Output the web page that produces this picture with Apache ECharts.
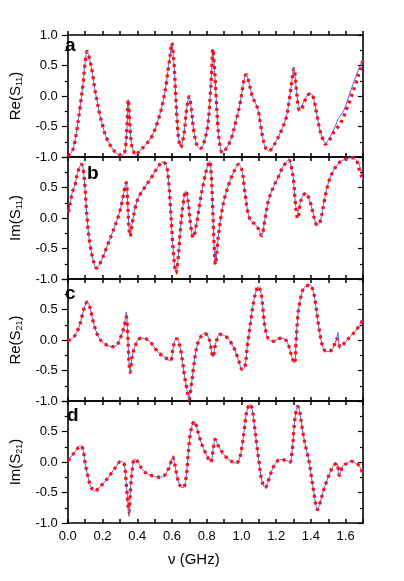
<!DOCTYPE html>
<html>
<head>
<meta charset="utf-8">
<script src="https://cdn.jsdelivr.net/npm/echarts@6/dist/echarts.min.js"></script>
<style>
  html, body { margin: 0; padding: 0; background: #fff; }
  #chart { width: 404px; height: 581px; }
</style>
</head>
<body>
<div id="chart"></div>
<script>
// model (blue line) values, [frequency GHz, value]
const reS11 = [[0.0,-0.98],[0.02,-0.93],[0.034,-0.83],[0.052,-0.56],[0.071,-0.18],[0.09,0.26],[0.099,0.53],[0.112,0.73],[0.127,0.59],[0.142,0.37],[0.155,0.12],[0.168,-0.07],[0.183,-0.29],[0.202,-0.5],[0.22,-0.67],[0.249,-0.83],[0.277,-0.93],[0.305,-0.97],[0.323,-0.95],[0.333,-0.83],[0.342,-0.45],[0.348,-0.06],[0.355,-0.34],[0.366,-0.78],[0.38,-0.92],[0.393,-0.97],[0.408,-0.92],[0.445,-0.81],[0.483,-0.67],[0.52,-0.4],[0.548,-0.1],[0.567,0.2],[0.58,0.48],[0.591,0.7],[0.598,0.87],[0.61,0.59],[0.62,0.1],[0.628,-0.34],[0.637,-0.67],[0.65,-0.84],[0.669,-0.62],[0.684,-0.23],[0.699,-0.01],[0.712,-0.23],[0.725,-0.56],[0.744,-0.81],[0.763,-0.86],[0.782,-0.78],[0.805,-0.5],[0.82,-0.01],[0.829,0.43],[0.835,0.77],[0.844,0.48],[0.854,-0.01],[0.863,-0.45],[0.876,-0.81],[0.89,-0.93],[0.913,-0.86],[0.941,-0.7],[0.969,-0.4],[0.988,-0.18],[1.006,0.12],[1.02,0.32],[1.027,0.35],[1.044,0.21],[1.063,-0.01],[1.081,-0.12],[1.096,-0.23],[1.109,-0.45],[1.122,-0.67],[1.137,-0.84],[1.156,-0.9],[1.175,-0.86],[1.203,-0.72],[1.231,-0.56],[1.259,-0.34],[1.278,-0.01],[1.291,0.26],[1.302,0.45],[1.315,0.15],[1.328,-0.15],[1.34,-0.19],[1.362,-0.07],[1.38,0.01],[1.399,0.04],[1.418,-0.07],[1.433,-0.29],[1.452,-0.56],[1.47,-0.72],[1.483,-0.77],[1.511,-0.67],[1.54,-0.5],[1.558,-0.37],[1.586,-0.26],[1.624,0.04],[1.661,0.34],[1.7,0.6]];
const imS11 = [[0.0,0.1],[0.006,0.12],[0.024,0.4],[0.043,0.56],[0.056,0.73],[0.07,0.85],[0.08,0.88],[0.094,0.67],[0.105,0.23],[0.114,-0.1],[0.127,-0.42],[0.142,-0.64],[0.155,-0.78],[0.165,-0.82],[0.193,-0.7],[0.22,-0.51],[0.258,-0.23],[0.296,0.07],[0.314,0.29],[0.329,0.51],[0.337,0.58],[0.344,0.29],[0.352,-0.15],[0.359,-0.3],[0.37,-0.1],[0.389,0.18],[0.408,0.34],[0.445,0.51],[0.483,0.67],[0.52,0.84],[0.548,0.92],[0.567,0.86],[0.58,0.62],[0.591,0.18],[0.604,-0.42],[0.614,-0.75],[0.623,-0.9],[0.636,-0.64],[0.651,-0.1],[0.664,0.23],[0.679,0.44],[0.692,0.29],[0.707,-0.1],[0.722,-0.32],[0.741,-0.1],[0.763,0.29],[0.782,0.58],[0.8,0.8],[0.817,0.93],[0.826,0.7],[0.834,0.2],[0.842,-0.4],[0.85,-0.76],[0.866,-0.32],[0.885,0.07],[0.904,0.34],[0.932,0.59],[0.96,0.78],[0.984,0.88],[1.003,0.78],[1.016,0.51],[1.035,0.12],[1.053,-0.04],[1.081,-0.11],[1.1,-0.19],[1.115,-0.29],[1.137,0.01],[1.156,0.29],[1.184,0.51],[1.212,0.67],[1.24,0.84],[1.272,0.95],[1.291,0.78],[1.302,0.56],[1.311,0.23],[1.324,0.1],[1.343,0.29],[1.371,0.41],[1.39,0.31],[1.409,0.12],[1.427,-0.08],[1.437,-0.12],[1.455,-0.04],[1.478,0.29],[1.502,0.59],[1.53,0.78],[1.568,0.92],[1.605,0.97],[1.633,0.99],[1.661,0.95],[1.68,0.86],[1.7,0.62]];
const reS21 = [[0.0,0.0],[0.006,0.0],[0.034,0.05],[0.052,0.13],[0.071,0.27],[0.09,0.48],[0.105,0.6],[0.114,0.62],[0.127,0.54],[0.142,0.35],[0.161,0.16],[0.183,0.02],[0.211,-0.06],[0.239,-0.1],[0.267,-0.11],[0.286,-0.07],[0.305,0.05],[0.324,0.21],[0.337,0.46],[0.344,0.16],[0.352,-0.34],[0.359,-0.53],[0.37,-0.28],[0.385,-0.12],[0.404,0.0],[0.426,0.03],[0.455,0.01],[0.483,-0.06],[0.52,-0.2],[0.557,-0.28],[0.591,-0.34],[0.604,-0.17],[0.617,-0.01],[0.628,0.02],[0.642,-0.06],[0.66,-0.34],[0.673,-0.61],[0.688,-0.83],[0.698,-0.97],[0.707,-0.83],[0.722,-0.5],[0.735,-0.23],[0.75,-0.04],[0.767,0.06],[0.786,0.11],[0.805,0.07],[0.819,-0.04],[0.829,-0.2],[0.836,-0.28],[0.847,-0.12],[0.855,-0.02],[0.875,0.09],[0.904,0.07],[0.932,-0.01],[0.96,-0.15],[0.984,-0.34],[1.006,-0.49],[1.021,-0.42],[1.035,-0.06],[1.044,0.1],[1.059,0.43],[1.072,0.65],[1.085,0.81],[1.096,0.88],[1.109,0.81],[1.119,0.65],[1.128,0.38],[1.141,0.13],[1.156,0.02],[1.184,-0.02],[1.212,0.02],[1.24,0.03],[1.265,-0.04],[1.278,-0.15],[1.291,-0.28],[1.306,-0.38],[1.315,-0.01],[1.324,0.38],[1.334,0.59],[1.347,0.76],[1.362,0.86],[1.395,0.9],[1.414,0.79],[1.427,0.59],[1.44,0.32],[1.455,0.05],[1.47,-0.12],[1.489,-0.19],[1.521,-0.16],[1.54,-0.04],[1.548,0.02],[1.555,0.13],[1.562,-0.08],[1.568,-0.12],[1.596,-0.04],[1.624,0.05],[1.652,0.13],[1.68,0.24],[1.7,0.33]];
const imS21 = [[0.0,0.03],[0.006,0.04],[0.034,0.14],[0.056,0.22],[0.071,0.27],[0.086,0.22],[0.099,0.0],[0.112,-0.19],[0.127,-0.36],[0.142,-0.45],[0.155,-0.48],[0.183,-0.41],[0.211,-0.33],[0.249,-0.19],[0.277,-0.08],[0.305,0.01],[0.324,-0.03],[0.337,-0.36],[0.346,-0.68],[0.352,-0.89],[0.361,-0.46],[0.37,-0.14],[0.385,0.05],[0.404,0.0],[0.426,-0.11],[0.455,-0.19],[0.492,-0.23],[0.529,-0.25],[0.557,-0.22],[0.585,-0.08],[0.604,0.08],[0.617,-0.05],[0.632,-0.27],[0.651,-0.41],[0.664,-0.42],[0.679,-0.3],[0.692,0.08],[0.703,0.41],[0.716,0.6],[0.729,0.67],[0.744,0.55],[0.763,0.36],[0.782,0.22],[0.801,0.1],[0.823,0.0],[0.838,0.22],[0.849,0.37],[0.866,0.27],[0.894,0.14],[0.922,0.05],[0.95,0.0],[0.969,-0.02],[0.988,0.05],[1.003,0.25],[1.016,0.52],[1.025,0.74],[1.038,0.9],[1.05,0.95],[1.063,0.85],[1.076,0.57],[1.087,0.3],[1.1,0.03],[1.113,-0.25],[1.126,-0.38],[1.137,-0.42],[1.156,-0.3],[1.175,-0.14],[1.197,-0.02],[1.222,0.04],[1.25,0.03],[1.278,0.0],[1.291,0.16],[1.302,0.52],[1.311,0.77],[1.324,0.91],[1.334,0.85],[1.349,0.57],[1.362,0.36],[1.377,0.16],[1.39,0.0],[1.403,-0.25],[1.418,-0.52],[1.427,-0.68],[1.437,-0.78],[1.452,-0.68],[1.47,-0.49],[1.493,-0.3],[1.515,-0.14],[1.534,-0.05],[1.549,-0.02],[1.564,-0.22],[1.583,-0.07],[1.609,-0.02],[1.633,0.01],[1.661,-0.02],[1.68,-0.07],[1.7,-0.19]];

// measured (red dots) where they differ from the model
const reS11Meas = [[1.328,-0.2],[1.34,-0.24],[1.362,-0.1],[1.483,-0.79],[1.511,-0.7],[1.54,-0.55],[1.558,-0.5],[1.568,-0.45],[1.586,-0.36],[1.605,-0.21],[1.624,-0.08],[1.642,0.07],[1.661,0.22],[1.68,0.4],[1.69,0.47]];
const imS11Meas = [[1.324,-0.01],[1.68,0.78],[1.69,0.7]];
const reS21Meas = [[0.337,0.38],[1.555,-0.01],[1.562,-0.06]];
const imS21Meas = [[0.352,-0.82]];

const yNames = ['Re(S{sub|11})', 'Im(S{sub|11})', 'Re(S{sub|21})', 'Im(S{sub|21})'];
const panelLetters = ['a', 'b', 'c', 'd'];

const model = [reS11, imS11, reS21, imS21];
const measured = [reS11Meas, imS11Meas, reS21Meas, imS21Meas];

function merge(base, over) {
  const map = new Map(base.map(p => [p[0], p[1]]));
  over.forEach(p => map.set(p[0], p[1]));
  return Array.from(map.entries()).sort((a, b) => a[0] - b[0]);
}

const chart = echarts.init(document.getElementById('chart'));
const FONT = 'Liberation Sans, Arial, sans-serif';
const top0 = 35, h = 122;

const grid = [], xAxis = [], yAxis = [], series = [];
const axisLine = { onZero: false, lineStyle: { color: '#000', width: 1.6 } };

for (let i = 0; i < 4; i++) {
  grid.push({ left: 61, right: 41, top: top0 + i * h, height: h });
  const xBase = {
    gridIndex: i, type: 'value', min: 0, max: 1.7, interval: 0.1,
    axisLine, splitLine: { show: false }
  };
  xAxis.push(Object.assign({}, xBase, {
    position: 'bottom',
    axisTick: { inside: true, length: 4, lineStyle: { color: '#000', width: 1.5 } },
    axisLabel: {
      show: i === 3, margin: 7, fontSize: 13, color: '#000', fontFamily: FONT,
      formatter: v => (Math.round(v * 10) % 2 === 0 && v < 1.65) ? v.toFixed(1) : ''
    }
  }));
  xAxis.push(Object.assign({}, xBase, {
    position: 'top',
    axisTick: { inside: i > 0, length: 4, lineStyle: { color: '#000', width: 1.5 } },
    axisLabel: { show: false }
  }));
  yAxis.push({
    gridIndex: i, type: 'value', min: -1, max: 1, interval: 0.5, position: 'left',
    axisLine, splitLine: { show: false },
    axisTick: { length: 6, lineStyle: { color: '#000', width: 1.2 } },
    minorTick: { show: true, splitNumber: 2, length: 3, lineStyle: { color: '#000', width: 1.2 } },
    axisLabel: {
      margin: 10, fontSize: 13, color: '#000', fontFamily: FONT,
      showMaxLabel: i === 0, formatter: v => v.toFixed(1)
    },
    name: yNames[i], nameLocation: 'middle', nameGap: 38, nameRotate: 90,
    nameTextStyle: {
      fontSize: 15, color: '#000', fontFamily: FONT,
      rich: { sub: { fontSize: 9, fontFamily: FONT, color: '#000', padding: [9, 0, 0, 0] } }
    }
  });
  yAxis.push({
    gridIndex: i, type: 'value', min: -1, max: 1, interval: 0.5, position: 'right',
    axisLine, splitLine: { show: false }, axisLabel: { show: false },
    axisTick: { inside: true, length: 5, lineStyle: { color: '#000', width: 1.2 } },
    minorTick: { show: true, splitNumber: 2, length: 3, lineStyle: { color: '#000', width: 1.2 } }
  });
  series.push({
    type: 'line', xAxisIndex: 2 * i, yAxisIndex: 2 * i, data: model[i],
    showSymbol: false, smooth: 0.35, lineStyle: { color: '#4b5cff', width: 1 }, z: 2
  });
  series.push({
    type: 'line', xAxisIndex: 2 * i, yAxisIndex: 2 * i, data: merge(model[i], measured[i]),
    showSymbol: false, smooth: 0.35,
    lineStyle: { color: '#ff1010', width: 3.3, type: [3, 4] }, z: 3
  });
}

const letterY = [45, 173, 293, 415];
const letterX = [65, 87, 65, 67];
const graphic = panelLetters.map((t, i) => ({
  type: 'text', left: letterX[i], top: letterY[i] - 9, z: 10,
  style: { text: t, font: 'bold 19px ' + FONT, fill: '#000' }
}));
graphic.push({
  type: 'text', left: 168, top: 552, z: 10,
  style: { text: 'ν (GHz)', font: '15px ' + FONT, fill: '#000' }
});

chart.setOption({
  backgroundColor: '#fff',
  animation: false,
  grid, xAxis, yAxis, series, graphic
});
</script>
</body>
</html>
